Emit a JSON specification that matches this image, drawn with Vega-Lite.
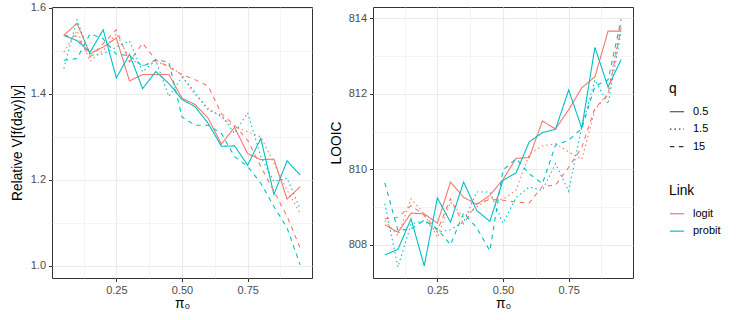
{
  "$schema": "https://vega.github.io/schema/vega-lite/v6.json",
  "padding": {"left": 9, "top": 1, "right": 5, "bottom": 5},
  "background": "white",
  "spacing": 15,
  "config": {
    "font": "Liberation Sans",
    "view": {"stroke": "#333333", "strokeWidth": 1},
    "axis": {
      "domain": false,
      "tickColor": "#333333",
      "tickSize": 3.5,
      "tickWidth": 1,
      "labelColor": "#4D4D4D",
      "labelFontSize": 11,
      "labelFont": "Liberation Sans",
      "titleFont": "Liberation Sans",
      "titleFontSize": 13.75,
      "titleFontWeight": "normal",
      "titleColor": "#000000",
      "gridColor": "#EBEBEB",
      "labelPadding": 3,
      "titlePadding": 3
    },
    "axisX": {"titlePadding": 1},
    "axisY": {"titlePadding": 5},
    "legend": {
      "orient": "none",
      "titleFont": "Liberation Sans",
      "labelFont": "Liberation Sans",
      "titleFontSize": 13.75,
      "titleFontWeight": "normal",
      "titleColor": "#000000",
      "labelFontSize": 11,
      "labelColor": "#000000",
      "symbolType": "stroke",
      "symbolSize": 200,
      "symbolStrokeWidth": 1.2,
      "rowPadding": 4.4,
      "titlePadding": 8,
      "labelOffset": 8
    }
  },
  "datasets": {
    "d": [
      {"pi":0.05,"link":"logit","q":"0.5","rel":1.536,"looic":808.53},
      {"pi":0.10,"link":"logit","q":"0.5","rel":1.564,"looic":808.33},
      {"pi":0.15,"link":"logit","q":"0.5","rel":1.493,"looic":808.84},
      {"pi":0.20,"link":"logit","q":"0.5","rel":1.509,"looic":808.82},
      {"pi":0.25,"link":"logit","q":"0.5","rel":1.530,"looic":808.57},
      {"pi":0.30,"link":"logit","q":"0.5","rel":1.430,"looic":809.66},
      {"pi":0.35,"link":"logit","q":"0.5","rel":1.445,"looic":809.26},
      {"pi":0.40,"link":"logit","q":"0.5","rel":1.445,"looic":809.07},
      {"pi":0.45,"link":"logit","q":"0.5","rel":1.445,"looic":809.31},
      {"pi":0.50,"link":"logit","q":"0.5","rel":1.390,"looic":809.73},
      {"pi":0.55,"link":"logit","q":"0.5","rel":1.375,"looic":810.29},
      {"pi":0.60,"link":"logit","q":"0.5","rel":1.343,"looic":810.31},
      {"pi":0.65,"link":"logit","q":"0.5","rel":1.283,"looic":811.28},
      {"pi":0.70,"link":"logit","q":"0.5","rel":1.322,"looic":811.07},
      {"pi":0.75,"link":"logit","q":"0.5","rel":1.261,"looic":811.58},
      {"pi":0.80,"link":"logit","q":"0.5","rel":1.247,"looic":812.16},
      {"pi":0.85,"link":"logit","q":"0.5","rel":1.248,"looic":812.45},
      {"pi":0.90,"link":"logit","q":"0.5","rel":1.155,"looic":813.66},
      {"pi":0.95,"link":"logit","q":"0.5","rel":1.184,"looic":813.66},

      {"pi":0.05,"link":"probit","q":"0.5","rel":1.536,"looic":807.73},
      {"pi":0.10,"link":"probit","q":"0.5","rel":1.524,"looic":807.88},
      {"pi":0.15,"link":"probit","q":"0.5","rel":1.497,"looic":808.69},
      {"pi":0.20,"link":"probit","q":"0.5","rel":1.549,"looic":807.44},
      {"pi":0.25,"link":"probit","q":"0.5","rel":1.437,"looic":809.24},
      {"pi":0.30,"link":"probit","q":"0.5","rel":1.492,"looic":808.60},
      {"pi":0.35,"link":"probit","q":"0.5","rel":1.412,"looic":809.66},
      {"pi":0.40,"link":"probit","q":"0.5","rel":1.452,"looic":808.91},
      {"pi":0.45,"link":"probit","q":"0.5","rel":1.424,"looic":808.62},
      {"pi":0.50,"link":"probit","q":"0.5","rel":1.387,"looic":809.71},
      {"pi":0.55,"link":"probit","q":"0.5","rel":1.370,"looic":809.91},
      {"pi":0.60,"link":"probit","q":"0.5","rel":1.331,"looic":810.73},
      {"pi":0.65,"link":"probit","q":"0.5","rel":1.278,"looic":810.97},
      {"pi":0.70,"link":"probit","q":"0.5","rel":1.279,"looic":811.06},
      {"pi":0.75,"link":"probit","q":"0.5","rel":1.234,"looic":812.10},
      {"pi":0.80,"link":"probit","q":"0.5","rel":1.296,"looic":811.09},
      {"pi":0.85,"link":"probit","q":"0.5","rel":1.166,"looic":813.23},
      {"pi":0.90,"link":"probit","q":"0.5","rel":1.244,"looic":812.18},
      {"pi":0.95,"link":"probit","q":"0.5","rel":1.211,"looic":812.91},

      {"pi":0.05,"link":"logit","q":"1.5","rel":1.497,"looic":808.64},
      {"pi":0.10,"link":"logit","q":"1.5","rel":1.547,"looic":808.24},
      {"pi":0.15,"link":"logit","q":"1.5","rel":1.476,"looic":809.22},
      {"pi":0.20,"link":"logit","q":"1.5","rel":1.501,"looic":808.82},
      {"pi":0.25,"link":"logit","q":"1.5","rel":1.540,"looic":808.20},
      {"pi":0.30,"link":"logit","q":"1.5","rel":1.482,"looic":809.13},
      {"pi":0.35,"link":"logit","q":"1.5","rel":1.466,"looic":808.73},
      {"pi":0.40,"link":"logit","q":"1.5","rel":1.474,"looic":809.00},
      {"pi":0.45,"link":"logit","q":"1.5","rel":1.466,"looic":809.25},
      {"pi":0.50,"link":"logit","q":"1.5","rel":1.443,"looic":809.20},
      {"pi":0.55,"link":"logit","q":"1.5","rel":1.397,"looic":809.45},
      {"pi":0.60,"link":"logit","q":"1.5","rel":1.366,"looic":810.40},
      {"pi":0.65,"link":"logit","q":"1.5","rel":1.346,"looic":810.62},
      {"pi":0.70,"link":"logit","q":"1.5","rel":1.323,"looic":810.68},
      {"pi":0.75,"link":"logit","q":"1.5","rel":1.312,"looic":810.46},
      {"pi":0.80,"link":"logit","q":"1.5","rel":1.300,"looic":810.26},
      {"pi":0.85,"link":"logit","q":"1.5","rel":1.238,"looic":811.57},
      {"pi":0.90,"link":"logit","q":"1.5","rel":1.176,"looic":812.02},
      {"pi":0.95,"link":"logit","q":"1.5","rel":1.122,"looic":813.88},

      {"pi":0.05,"link":"logit","q":"15","rel":1.536,"looic":808.69},
      {"pi":0.10,"link":"logit","q":"15","rel":1.534,"looic":808.73},
      {"pi":0.15,"link":"logit","q":"15","rel":1.486,"looic":809.04},
      {"pi":0.20,"link":"logit","q":"15","rel":1.517,"looic":808.78},
      {"pi":0.25,"link":"logit","q":"15","rel":1.549,"looic":808.38},
      {"pi":0.30,"link":"logit","q":"15","rel":1.474,"looic":809.22},
      {"pi":0.35,"link":"logit","q":"15","rel":1.518,"looic":808.55},
      {"pi":0.40,"link":"logit","q":"15","rel":1.479,"looic":809.09},
      {"pi":0.45,"link":"logit","q":"15","rel":1.462,"looic":809.20},
      {"pi":0.50,"link":"logit","q":"15","rel":1.445,"looic":809.18},
      {"pi":0.55,"link":"logit","q":"15","rel":1.433,"looic":809.13},
      {"pi":0.60,"link":"logit","q":"15","rel":1.418,"looic":809.11},
      {"pi":0.65,"link":"logit","q":"15","rel":1.354,"looic":809.55},
      {"pi":0.70,"link":"logit","q":"15","rel":1.327,"looic":809.58},
      {"pi":0.75,"link":"logit","q":"15","rel":1.292,"looic":810.05},
      {"pi":0.80,"link":"logit","q":"15","rel":1.231,"looic":810.58},
      {"pi":0.85,"link":"logit","q":"15","rel":1.173,"looic":811.62},
      {"pi":0.90,"link":"logit","q":"15","rel":1.115,"looic":811.97},
      {"pi":0.95,"link":"logit","q":"15","rel":1.041,"looic":813.76},

      {"pi":0.05,"link":"probit","q":"1.5","rel":1.459,"looic":809.09},
      {"pi":0.10,"link":"probit","q":"1.5","rel":1.572,"looic":807.41},
      {"pi":0.15,"link":"probit","q":"1.5","rel":1.490,"looic":808.55},
      {"pi":0.20,"link":"probit","q":"1.5","rel":1.493,"looic":808.64},
      {"pi":0.25,"link":"probit","q":"1.5","rel":1.509,"looic":808.33},
      {"pi":0.30,"link":"probit","q":"1.5","rel":1.523,"looic":808.40},
      {"pi":0.35,"link":"probit","q":"1.5","rel":1.451,"looic":808.60},
      {"pi":0.40,"link":"probit","q":"1.5","rel":1.478,"looic":809.40},
      {"pi":0.45,"link":"probit","q":"1.5","rel":1.394,"looic":809.40},
      {"pi":0.50,"link":"probit","q":"1.5","rel":1.439,"looic":808.57},
      {"pi":0.55,"link":"probit","q":"1.5","rel":1.404,"looic":809.26},
      {"pi":0.60,"link":"probit","q":"1.5","rel":1.362,"looic":809.53},
      {"pi":0.65,"link":"probit","q":"1.5","rel":1.350,"looic":809.44},
      {"pi":0.70,"link":"probit","q":"1.5","rel":1.308,"looic":810.15},
      {"pi":0.75,"link":"probit","q":"1.5","rel":1.356,"looic":809.42},
      {"pi":0.80,"link":"probit","q":"1.5","rel":1.254,"looic":811.13},
      {"pi":0.85,"link":"probit","q":"1.5","rel":1.196,"looic":812.37},
      {"pi":0.90,"link":"probit","q":"1.5","rel":1.204,"looic":811.73},
      {"pi":0.95,"link":"probit","q":"1.5","rel":1.132,"looic":813.66},

      {"pi":0.05,"link":"probit","q":"15","rel":1.478,"looic":809.64},
      {"pi":0.10,"link":"probit","q":"15","rel":1.482,"looic":808.38},
      {"pi":0.15,"link":"probit","q":"15","rel":1.540,"looic":808.42},
      {"pi":0.20,"link":"probit","q":"15","rel":1.528,"looic":808.65},
      {"pi":0.25,"link":"probit","q":"15","rel":1.492,"looic":808.42},
      {"pi":0.30,"link":"probit","q":"15","rel":1.489,"looic":808.00},
      {"pi":0.35,"link":"probit","q":"15","rel":1.464,"looic":808.84},
      {"pi":0.40,"link":"probit","q":"15","rel":1.479,"looic":808.45},
      {"pi":0.45,"link":"probit","q":"15","rel":1.474,"looic":807.84},
      {"pi":0.50,"link":"probit","q":"15","rel":1.346,"looic":809.98},
      {"pi":0.55,"link":"probit","q":"15","rel":1.327,"looic":810.28},
      {"pi":0.60,"link":"probit","q":"15","rel":1.327,"looic":809.88},
      {"pi":0.65,"link":"probit","q":"15","rel":1.308,"looic":809.62},
      {"pi":0.70,"link":"probit","q":"15","rel":1.254,"looic":810.64},
      {"pi":0.75,"link":"probit","q":"15","rel":1.231,"looic":810.77},
      {"pi":0.80,"link":"probit","q":"15","rel":1.192,"looic":811.08},
      {"pi":0.85,"link":"probit","q":"15","rel":1.138,"looic":812.20},
      {"pi":0.90,"link":"probit","q":"15","rel":1.088,"looic":812.37},
      {"pi":0.95,"link":"probit","q":"15","rel":1.002,"looic":813.97}
    ]
  },
  "hconcat": [
    {
      "width": 260,
      "height": 271,
      "data": {"name": "d"},
      "mark": {"type": "line", "strokeWidth": 1.1},
      "encoding": {
        "x": {
          "field": "pi", "type": "quantitative",
          "scale": {"domain": [0.005, 0.995], "nice": false, "zero": false},
          "axis": {
            "title": "π₀",
            "values": [0.125, 0.25, 0.375, 0.5, 0.625, 0.75, 0.875],
            "labelExpr": "abs(datum.value*4-round(datum.value*4))<0.001 ? format(datum.value,'.2f') : ''",
            "gridWidth": {"condition": {"test": "abs(datum.value*4-round(datum.value*4))<0.001", "value": 1.1}, "value": 0.55},
            "tickOpacity": {"condition": {"test": "abs(datum.value*4-round(datum.value*4))<0.001", "value": 1}, "value": 0}
          }
        },
        "y": {
          "field": "rel", "type": "quantitative",
          "scale": {"domain": [0.9714, 1.6021], "nice": false, "zero": false},
          "axis": {
            "title": "Relative V[f(day)|y]",
            "titlePadding": 6,
            "values": [1.0, 1.1, 1.2, 1.3, 1.4, 1.5, 1.6],
            "labelExpr": "abs(datum.value*5-round(datum.value*5))<0.001 ? format(datum.value,'.1f') : ''",
            "gridWidth": {"condition": {"test": "abs(datum.value*5-round(datum.value*5))<0.001", "value": 1.1}, "value": 0.55},
            "tickOpacity": {"condition": {"test": "abs(datum.value*5-round(datum.value*5))<0.001", "value": 1}, "value": 0}
          }
        },
        "color": {
          "field": "link", "type": "nominal",
          "scale": {"domain": ["logit", "probit"], "range": ["#F8766D", "#00BFC4"]},
          "legend": {"title": "Link", "legendX": 617, "legendY": 177}
        },
        "strokeDash": {
          "field": "q", "type": "nominal",
          "scale": {"domain": ["0.5", "1.5", "15"], "range": [[1, 0], [1.5, 3], [4.5, 4.5]]},
          "legend": {"title": "q", "legendX": 617, "legendY": 75, "symbolStrokeColor": "#333333"}
        }
      }
    },
    {
      "width": 260,
      "height": 271,
      "data": {"name": "d"},
      "mark": {"type": "line", "strokeWidth": 1.1},
      "encoding": {
        "x": {
          "field": "pi", "type": "quantitative",
          "scale": {"domain": [0.005, 0.995], "nice": false, "zero": false},
          "axis": {
            "title": "π₀",
            "values": [0.125, 0.25, 0.375, 0.5, 0.625, 0.75, 0.875],
            "labelExpr": "abs(datum.value*4-round(datum.value*4))<0.001 ? format(datum.value,'.2f') : ''",
            "gridWidth": {"condition": {"test": "abs(datum.value*4-round(datum.value*4))<0.001", "value": 1.1}, "value": 0.55},
            "tickOpacity": {"condition": {"test": "abs(datum.value*4-round(datum.value*4))<0.001", "value": 1}, "value": 0}
          }
        },
        "y": {
          "field": "looic", "type": "quantitative",
          "scale": {"domain": [807.12, 814.3], "nice": false, "zero": false},
          "axis": {
            "title": "LOOIC",
            "values": [808, 809, 810, 811, 812, 813, 814],
            "labelExpr": "datum.value % 2 == 0 ? format(datum.value,'d') : ''",
            "gridWidth": {"condition": {"test": "datum.value % 2 == 0", "value": 1.1}, "value": 0.55},
            "tickOpacity": {"condition": {"test": "datum.value % 2 == 0", "value": 1}, "value": 0}
          }
        },
        "color": {"field": "link", "type": "nominal"},
        "strokeDash": {"field": "q", "type": "nominal"}
      }
    }
  ],
  "resolve": {"scale": {"y": "independent"}}
}
